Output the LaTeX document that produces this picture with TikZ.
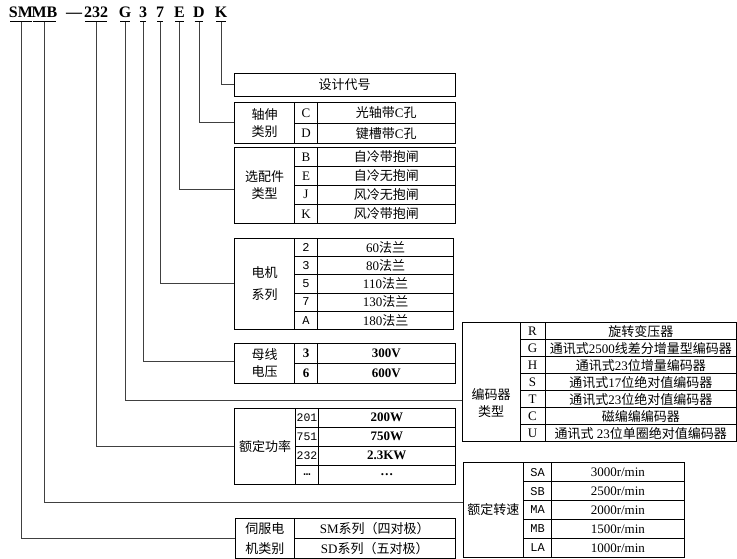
\documentclass[tikz,border=0pt]{standalone}
\usepackage{fontspec}
\setmainfont{Liberation Serif}
\setmonofont{Liberation Mono}
\newfontfamily\cjk{Noto Sans CJK SC}
\newcommand{\zh}[1]{{\cjk #1}}

\begin{document}
\begin{tikzpicture}[
    x=1pt, y=-1pt,
    code/.style={font=\fontsize{16}{16}\selectfont\bfseries, inner xsep=0pt, inner ysep=3.5pt, text depth=0pt, anchor=base},
    uline/.style={line width=0.9pt, shorten <=1.5pt, shorten >=1.5pt},
    frame/.style={draw, line width=0.8pt, inner sep=0pt, align=center, font=\fontsize{13}{17}\selectfont\cjk},
    cell/.style={draw, line width=0.8pt, inner sep=0pt, font=\fontsize{13}{15}\selectfont},
    key/.style={cell, font=\fontsize{12}{14}\selectfont\ttfamily},
    conn/.style={line width=1pt, draw=black!75}
]
\useasboundingbox (0,0) rectangle (737,559);

% Model code
\node[code] (csm) at (21,18) {SM};
\node[code] (cmb) at (44.5,18) {MB};
\node[code] (cdash) at (74,18) {---};
\node[code] (cpow) at (96,18) {232};
\node[code] (cenc) at (125,18) {G};
\node[code] (cvolt) at (143,18) {3};
\node[code] (cser) at (160,18) {7};
\node[code] (copt) at (179.5,18) {E};
\node[code] (cshaft) at (199,18) {D};
\node[code] (cdes) at (221,18) {K};
\foreach \n in {csm,cmb,cpow,cenc,cvolt,cser,copt,cshaft,cdes}
    \draw[uline] (\n.south west) -- (\n.south east);

% Design code
\node[frame, minimum width=220.7, minimum height=23.4] (design) at (344.7,85) {设计代号};

% Shaft extension
\node[frame, minimum width=60, minimum height=40.6] (shaft) at (264.5,123) {轴伸\\类别};
\foreach \k/\t [count=\i] in {C/\zh{光轴带}C\zh{孔}, D/\zh{键槽带}C\zh{孔}}{
    \node[cell, minimum width=23, minimum height=20.3] (shaft-k\i) at (306,{102.7+(\i-0.5)*20.3}) {\k};
    \node[cell, minimum width=137.5, minimum height=20.3] (shaft-t\i) at (386.25,{102.7+(\i-0.5)*20.3}) {\t};
}

% Options
\node[frame, minimum width=60, minimum height=76] (opt) at (264.5,185.3) {选配件\\类型};
\foreach \k/\t [count=\i] in {B/自冷带抱闸, E/自冷无抱闸, J/风冷无抱闸, K/风冷带抱闸}{
    \node[cell, minimum width=23, minimum height=19] (opt-k\i) at (306,{147.3+(\i-0.5)*19}) {\k};
    \node[cell, minimum width=137.5, minimum height=19] (opt-t\i) at (386.25,{147.3+(\i-0.5)*19}) {\zh{\t}};
}

% Motor series
\node[frame, minimum width=60, minimum height=91] (series) at (264.5,283.8) {电机\\[5pt]系列};
\foreach \k/\t [count=\i] in {2/60, 3/80, 5/110, 7/130, A/180}{
    \node[key, minimum width=23, minimum height=18.2] (series-k\i) at (306,{238.3+(\i-0.5)*18.2}) {\k};
    \node[cell, minimum width=136, minimum height=18.2] (series-t\i) at (385.5,{238.3+(\i-0.5)*18.2}) {\t\zh{法兰}};
}

% Bus voltage
\node[frame, minimum width=60, minimum height=40] (volt) at (264.5,363.3) {母线\\电压};
\foreach \k/\t [count=\i] in {3/300V, 6/600V}{
    \node[cell, minimum width=23, minimum height=20] (volt-k\i) at (306,{343.3+(\i-0.5)*20}) {\bfseries\k};
    \node[cell, minimum width=137.5, minimum height=20] (volt-t\i) at (386.25,{343.3+(\i-0.5)*20}) {\bfseries\t};
}

% Encoder type
\node[frame, minimum width=57.7, minimum height=119] (enc) at (491.15,382.2) {};
\node[frame, draw=none] (enc-lbl) at (491.15,403) {编码器\\类型};
\foreach \k/\t [count=\i] in {R/\zh{旋转变压器}, G/\zh{通讯式}2500\zh{线差分增量型编码器}, H/\zh{通讯式}23\zh{位增量编码器}, S/\zh{通讯式}17\zh{位绝对值编码器}, T/\zh{通讯式}23\zh{位绝对值编码器}, C/\zh{磁编编编码器}, U/\zh{通讯式} 23\zh{位单圈绝对值编码器}}{
    \node[cell, minimum width=25, minimum height=17] (enc-k\i) at (532.5,{322.7+(\i-0.5)*17}) {\k};
    \node[cell, minimum width=191.5, minimum height=17] (enc-t\i) at (640.75,{322.7+(\i-0.5)*17}) {\t};
}

% Rated power
\node[frame, minimum width=61, minimum height=75.7] (pow) at (265,446.15) {额定功率};
\foreach \k/\t [count=\i] in {201/200W, 751/750W, 232/2.3KW, \textbf{\ldots}/\ldots}{
    \node[key, minimum width=23, minimum height=18.9, font=\fontsize{11.5}{14}\selectfont\ttfamily] (pow-k\i) at (307,{408.3+(\i-0.5)*18.925}) {\k};
    \node[cell, minimum width=136.5, minimum height=18.9] (pow-t\i) at (386.75,{408.3+(\i-0.5)*18.925}) {\bfseries\t};
}

% Rated speed
\node[frame, minimum width=60.5, minimum height=94.6] (speed) at (493.25,510) {额定转速};
\foreach \k/\t [count=\i] in {SA/{3000r/min}, SB/{2500r/min}, MA/{2000r/min}, MB/{1500r/min}, LA/{1000r/min}}{
    \node[key, minimum width=28.2, minimum height=18.9] (speed-k\i) at (537.6,{462.7+(\i-0.5)*18.92}) {\k};
    \node[cell, minimum width=132.3, minimum height=18.9] (speed-t\i) at (617.85,{462.7+(\i-0.5)*18.92}) {\t};
}

% Servo motor type
\node[frame, minimum width=59.5, minimum height=40] (motor) at (264.75,538.3) {伺服电\\[3pt]机类别};
\foreach \t [count=\i] in {SM\zh{系列（四对极）}, SD\zh{系列（五对极）}}{
    \node[cell, minimum width=160.5, minimum height=20] (motor-t\i) at (374.75,{518.3+(\i-0.5)*20}) {\t};
}

% Connectors
\draw[conn] (cdes.south) |- (design.west);
\draw[conn] (cshaft.south) |- (shaft.west);
\draw[conn] (copt.south) |- ([yshift=-4.7pt]opt.west);
\draw[conn] (cser.south) |- (series.west);
\draw[conn] (cvolt.south) |- ([yshift=2.3pt]volt.west);
\draw[conn] (cenc.south) |- ([yshift=-17.8pt]enc.west);
\draw[conn] (cpow.south) |- (pow.west);
\draw[conn] (cmb.south) |- ([yshift=7.7pt]speed.west);
\draw[conn] (csm.south) |- (motor.west);

\end{tikzpicture}
\end{document}
